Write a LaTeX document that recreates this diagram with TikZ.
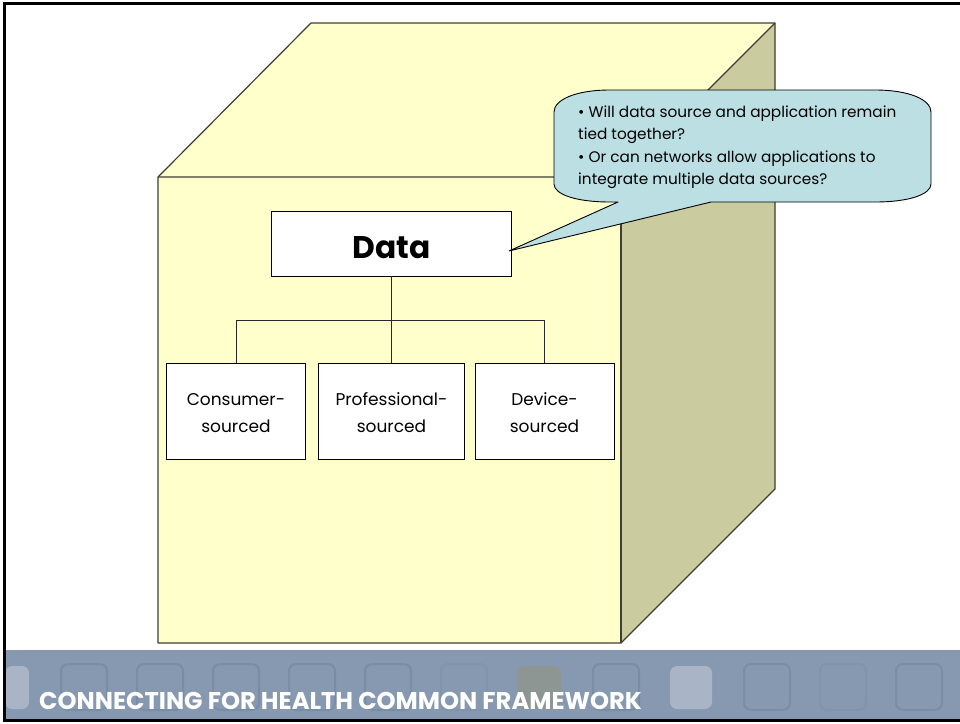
\documentclass[tikz,border=0pt]{standalone}
\usepackage{fontspec}
\setmainfont{Poppins}
\definecolor{cubefront}{HTML}{FFFFCC}
\definecolor{cubeside}{HTML}{CBCBA0}
\definecolor{calloutfill}{HTML}{BBDFE2}
\definecolor{edgegrey}{HTML}{3E3E32}
\definecolor{band}{HTML}{8799B0}
\definecolor{tileline}{HTML}{7A8DA6}
\definecolor{tilefaint}{HTML}{8094AD}
\definecolor{tilelight}{HTML}{A9B5C7}
\definecolor{tileolive}{HTML}{8E9694}
\tikzset{
  cubeface/.style={draw=edgegrey,line width=1.2pt,line join=round},
  orgbox/.style={draw=black,fill=white,line width=0.9pt,inner sep=0pt,align=center,font=\fontsize{17}{27}\selectfont},
  orgline/.style={draw=black!85,line width=1pt},
  tile/.style={line width=2pt,rounded corners=7pt},
}
\begin{document}
\begin{tikzpicture}[x=1pt,y=-1pt]
\useasboundingbox (0,0) rectangle (960,723);
\fill[white] (0,0) rectangle (960,723);
% band
\fill[band] (5,650) rectangle (960,720);
\foreach \x/\c in {61/tileline,137/tileline,213/tileline,289/tileline,365/tileline,441/tilefaint,593/tileline,744/tileline,820/tilefaint,896/tileline}
  \draw[tile,draw=\c] (\x,664) rectangle ++(46,46);
\fill[tilelight,rounded corners=7pt] (5,666) -- (29,666) -- (29,709) -- (5,709) -- cycle;
\fill[tileolive,rounded corners=7pt] (517,666) rectangle (561,709);
\fill[tilelight,rounded corners=7pt] (670,666) rectangle (712,709);
\node[anchor=base west,inner sep=0pt,text=white,font=\fontsize{24.2}{24.2}\selectfont\bfseries] (bandtitle) at (39,709) {CONNECTING FOR HEALTH COMMON FRAMEWORK};
% frame
\draw[black,line width=3pt] (4,3.3) -- (4,720.5);
\draw[black,line width=2.6pt] (2.7,3.3) -- (960,3.3);
\draw[black,line width=2.6pt] (2.7,720.5) -- (960,720.5);
% cube
\fill[cubefront] (158,177) -- (311,23) -- (775,23) -- (621,177) -- cycle;
\fill[cubeside] (621,177) -- (775,23) -- (775,489) -- (621,643) -- cycle;
\fill[cubefront] (158,177) rectangle (621,643);
\draw[cubeface] (158,177) -- (311,23) -- (775,23) -- (775,489) -- (621,643) -- (158,643) -- cycle;
\draw[cubeface] (158,177) -- (621,177) -- (775,23);
\draw[cubeface] (621,177) -- (621,643);
% boxes
\node[orgbox,minimum width=240pt,minimum height=65pt,font=\fontsize{31.3}{31}\selectfont\bfseries] (data) at (391.5,243.5) {\rule{0pt}{31pt}Data};
\node[orgbox,minimum width=139pt,minimum height=96pt] (consumer) at (236,411) {\rule{0pt}{16pt}Consumer-\\sourced};
\node[orgbox,minimum width=146pt,minimum height=96pt] (professional) at (391.5,411) {\rule{0pt}{16pt}Professional-\\sourced};
\node[orgbox,minimum width=139pt,minimum height=96pt] (device) at (544.5,411) {\rule{0pt}{16pt}Device-\\sourced};
\coordinate (bus) at (391.5,320);
\draw[orgline] (data.south) -- (bus);
\draw[orgline] (bus) -- (professional.north);
\draw[orgline] (consumer.north) |- (bus);
\draw[orgline] (device.north) |- (bus);
% callout
\coordinate (tip) at (509,251);
\draw[fill=calloutfill,draw=black,line width=0.9pt,line join=round] (tip) -- (618,202) -- (610,202)
  .. controls (575,202) and (554,194) .. (554,184) -- (554,112)
  .. controls (554,100) and (575,90) .. (610,90) -- (875,90)
  .. controls (910,90) and (931,100) .. (931,112) -- (931,184)
  .. controls (931,194) and (910,202) .. (875,202) -- (711,202) -- cycle;
\node[anchor=north west,inner sep=0pt,align=left,font=\fontsize{15.3}{22.5}\selectfont] (callouttext) at (578,105.5) {• Will data source and application remain\\tied together?\\• Or can networks allow applications to\\integrate multiple data sources?};
\end{tikzpicture}
\end{document}
